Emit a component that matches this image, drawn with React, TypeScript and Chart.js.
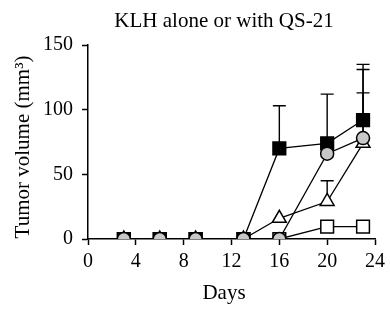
import React, { useEffect, useRef } from "react";
import { Chart, registerables } from "chart.js";

Chart.register(...registerables);

const days = [3, 6, 9, 13, 16, 20, 23];
const greyCircle = [0, 0, 0, 0, 0, 66, 78];
const blackSquare = [0, 0, 0, 0, 70, 74, 92];
const openTriangle = [0, 0, 0, 0, 16, 29, 74];
const openSquare = [0, 0, 0, 0, 0, 9.5, 9.5];

const greyCircleErr = [0, 0, 0, 0, 0, 0, 35];
const blackSquareErr = [0, 0, 0, 0, 33, 38, 43];
const openTriangleErr = [0, 0, 0, 0, 0, 16, 57];
const openSquareErr = [0, 0, 0, 0, 0, 0, 0];

const xTicks = [0, 4, 8, 12, 16, 20, 24];
const yTicks = [0, 50, 100, 150];

const titleText = "KLH alone or with QS-21";
const xLabel = "Days";
const yLabel = "Tumor volume (mm\u00B3)";

const FONT = "'Liberation Serif', 'Times New Roman', serif";

const errorBarPlugin = {
  id: "errorBars",
  beforeDatasetsDraw(chart: any) {
    const ctx = chart.ctx;
    const xs = chart.scales.x;
    const ys = chart.scales.y;
    ctx.save();
    ctx.strokeStyle = "#000";
    ctx.lineWidth = 1.4;
    chart.data.datasets.forEach((ds: any) => {
      const errs: number[] = ds.errors || [];
      ds.data.forEach((pt: any, i: number) => {
        const e = errs[i];
        if (!e) return;
        const px = xs.getPixelForValue(pt.x);
        const py = ys.getPixelForValue(pt.y);
        const pe = ys.getPixelForValue(pt.y + e);
        ctx.beginPath();
        ctx.moveTo(px, py);
        ctx.lineTo(px, pe);
        ctx.moveTo(px - 6.5, pe);
        ctx.lineTo(px + 6.5, pe);
        ctx.stroke();
      });
    });
    ctx.restore();
  },
};

const textPlugin = {
  id: "texts",
  afterDraw(chart: any) {
    const ctx = chart.ctx;
    ctx.save();
    ctx.fillStyle = "#000";
    ctx.font = `21px ${FONT}`;
    ctx.textAlign = "center";
    ctx.textBaseline = "alphabetic";
    ctx.fillText(titleText, 224, 27);
    ctx.fillText(xLabel, 224, 299);
    ctx.translate(29, 147);
    ctx.rotate(-Math.PI / 2);
    ctx.fillText(yLabel, 0, 0);
    ctx.restore();
  },
};

function series(values: number[]) {
  return days.map((d, i) => ({ x: d, y: values[i] }));
}

export default function App() {
  const ref = useRef<HTMLCanvasElement | null>(null);
  useEffect(() => {
    if (!ref.current) return;
    const common = {
      borderColor: "#000",
      borderWidth: 1.3,
      pointBorderColor: "#000",
      pointBorderWidth: 1.5,
      showLine: true,
      tension: 0,
    };
    const chart = new Chart(ref.current, {
      type: "scatter",
      data: {
        datasets: [
          {
            ...common,
            data: series(greyCircle),
            errors: greyCircleErr,
            pointStyle: "circle",
            pointRadius: 6.5,
            pointBackgroundColor: "#c8c8c8",
          } as any,
          {
            ...common,
            data: series(blackSquare),
            errors: blackSquareErr,
            pointStyle: "rect",
            pointRadius: 9,
            pointBackgroundColor: "#000",
          } as any,
          {
            ...common,
            data: series(openTriangle),
            errors: openTriangleErr,
            pointStyle: "triangle",
            pointRadius: 8,
            pointBackgroundColor: "#fff",
          } as any,
          {
            ...common,
            data: series(openSquare),
            errors: openSquareErr,
            pointStyle: "rect",
            pointRadius: 9,
            pointBackgroundColor: "#fff",
          } as any,
        ],
      },
      options: {
        animation: false,
        responsive: false,
        layout: { padding: { top: 45, right: 13, left: 0, bottom: 0 } },
        plugins: {
          legend: { display: false },
          tooltip: { enabled: false },
          title: { display: false },
        },
        scales: {
          x: {
            type: "linear",
            min: 0,
            max: 24,
            afterFit: (s: any) => {
              s.height = 72;
            },
            afterBuildTicks: (s: any) => {
              s.ticks = xTicks.map((v) => ({ value: v }));
            },
            border: { display: true, color: "#000", width: 1.5 },
            grid: {
              display: true,
              drawOnChartArea: false,
              drawTicks: true,
              tickLength: 6,
              tickColor: "#000",
              tickWidth: 1.5,
            },
            ticks: {
              color: "#000",
              font: { family: FONT, size: 20 },
              padding: 5,
              maxRotation: 0,
            },
          },
          y: {
            type: "linear",
            min: 0,
            max: 150,
            afterFit: (s: any) => {
              s.width = 88;
            },
            afterBuildTicks: (s: any) => {
              s.ticks = yTicks.map((v) => ({ value: v }));
            },
            border: { display: true, color: "#000", width: 1.5 },
            grid: {
              display: true,
              drawOnChartArea: false,
              drawTicks: true,
              tickLength: 6,
              tickColor: "#000",
              tickWidth: 1.5,
            },
            ticks: {
              color: "#000",
              font: { family: FONT, size: 20 },
              padding: 9,
            },
          },
        },
      } as any,
      plugins: [errorBarPlugin, textPlugin],
    });
    return () => chart.destroy();
  }, []);
  return (
    <div style={{ position: "fixed", left: 0, top: 0, width: 390, height: 311, background: "#fff" }}>
      <canvas ref={ref} width={390} height={311} style={{ width: 390, height: 311 }} />
    </div>
  );
}
